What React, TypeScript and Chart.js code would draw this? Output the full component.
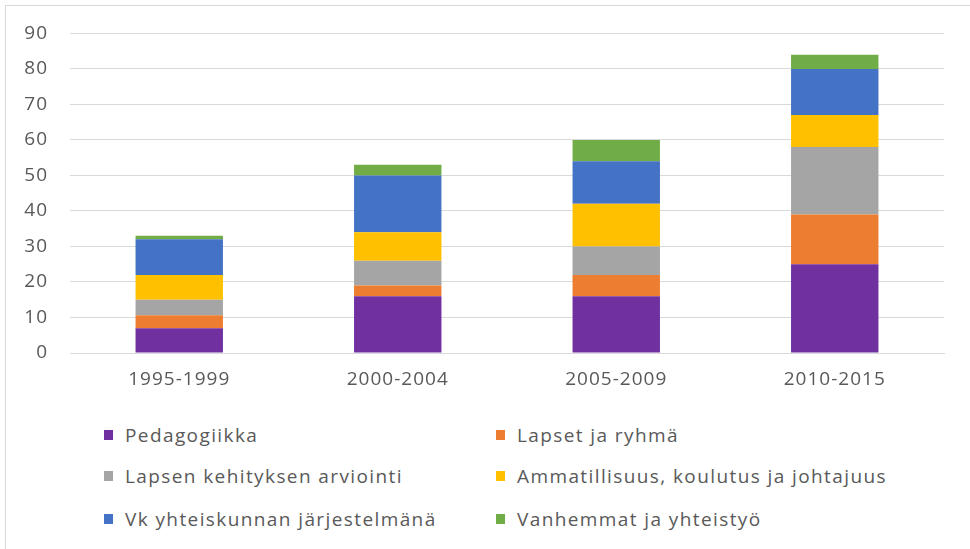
import React, { useEffect, useRef } from "react";
import { Chart, registerables } from "chart.js";

Chart.register(...registerables);

const categories = ["1995-1999", "2000-2004", "2005-2009", "2010-2015"];
const seriesNames = [
  "Pedagogiikka",
  "Lapset ja ryhmä",
  "Lapsen kehityksen arviointi",
  "Ammatillisuus, koulutus ja johtajuus",
  "Vk yhteiskunnan järjestelmänä",
  "Vanhemmat ja yhteistyö",
];
const pedagogiikka = [7, 16, 16, 25];
const lapsetJaRyhma = [3.6, 3, 6, 14];
const kehityksenArviointi = [4.4, 7, 8, 19];
const ammatillisuus = [7, 8, 12, 9];
const yhteiskunta = [10, 16, 12, 13];
const vanhemmat = [1, 3, 6, 4];
const seriesColors = ["#7030A0", "#ED7D31", "#A5A5A5", "#FFC000", "#4472C4", "#70AD47"];
const yTicks = [0, 10, 20, 30, 40, 50, 60, 70, 80, 90];

const FONT = "'Open Sans', sans-serif";
const TEXT_COLOR = "#595959";

export default function App() {
  const ref = useRef<HTMLCanvasElement | null>(null);

  useEffect(() => {
    if (!ref.current) return;
    const values = [pedagogiikka, lapsetJaRyhma, kehityksenArviointi, ammatillisuus, yhteiskunta, vanhemmat];
    const spacing = {
      id: "spacing",
      beforeDraw(chart: any) {
        chart.ctx.letterSpacing = "1px";
      },
    };
    const chart = new Chart(ref.current, {
      type: "bar",
      data: {
        labels: categories,
        datasets: seriesNames.map((name, i) => ({
          label: name,
          data: values[i],
          backgroundColor: seriesColors[i],
          borderWidth: 0,
          barPercentage: 0.4,
          categoryPercentage: 1,
        })),
      },
      plugins: [spacing],
      options: {
        animation: false,
        responsive: false,
        maintainAspectRatio: false,
        layout: { padding: { left: 0, right: 26, top: 33, bottom: 0 } },
        plugins: { legend: { display: false }, tooltip: { enabled: false } },
        scales: {
          x: {
            stacked: true,
            grid: { display: false, drawTicks: false },
            border: { display: true, color: "#D9D9D9", width: 1 },
            ticks: { color: TEXT_COLOR, font: { family: FONT, size: 19 }, padding: 15 },
            afterFit(scale: any) {
              scale.height = 47;
            },
          },
          y: {
            stacked: true,
            min: 0,
            max: 90,
            afterBuildTicks(scale: any) {
              scale.ticks = yTicks.map((v) => ({ value: v }));
            },
            grid: { color: "#D9D9D9", drawTicks: false, lineWidth: 1 },
            border: { display: false },
            ticks: { color: TEXT_COLOR, font: { family: FONT, size: 19 }, padding: 22 },
            afterFit(scale: any) {
              scale.width = 70;
            },
          },
        },
      },
    });
    return () => chart.destroy();
  }, []);

  const legendRows = [435, 476, 519];
  const legendCols = [104, 496];

  return (
    <div
      style={{
        position: "absolute",
        left: 0,
        top: 0,
        width: 970,
        height: 549,
        background: "#fff",
        overflow: "hidden",
      }}
    >
      <div
        style={{
          position: "absolute",
          left: 5,
          top: 5,
          width: 980,
          height: 560,
          borderTop: "1px solid #D9D9D9",
          borderLeft: "1px solid #D9D9D9",
        }}
      />
      <canvas ref={ref} width={970} height={400} style={{ position: "absolute", left: 0, top: 0 }} />
      {seriesNames.map((name, i) => {
        const row = Math.floor(i / 2);
        const col = i % 2;
        return (
          <div
            key={name}
            style={{
              position: "absolute",
              left: legendCols[col],
              top: legendRows[row] - 14,
              height: 28,
              display: "flex",
              alignItems: "center",
              fontFamily: FONT,
              fontSize: 19,
              letterSpacing: "1.4px",
              color: TEXT_COLOR,
              whiteSpace: "nowrap",
            }}
          >
            <span style={{ display: "inline-block", width: 9, height: 10, background: seriesColors[i], marginRight: 12 }} />
            <span>{name}</span>
          </div>
        );
      })}
    </div>
  );
}
